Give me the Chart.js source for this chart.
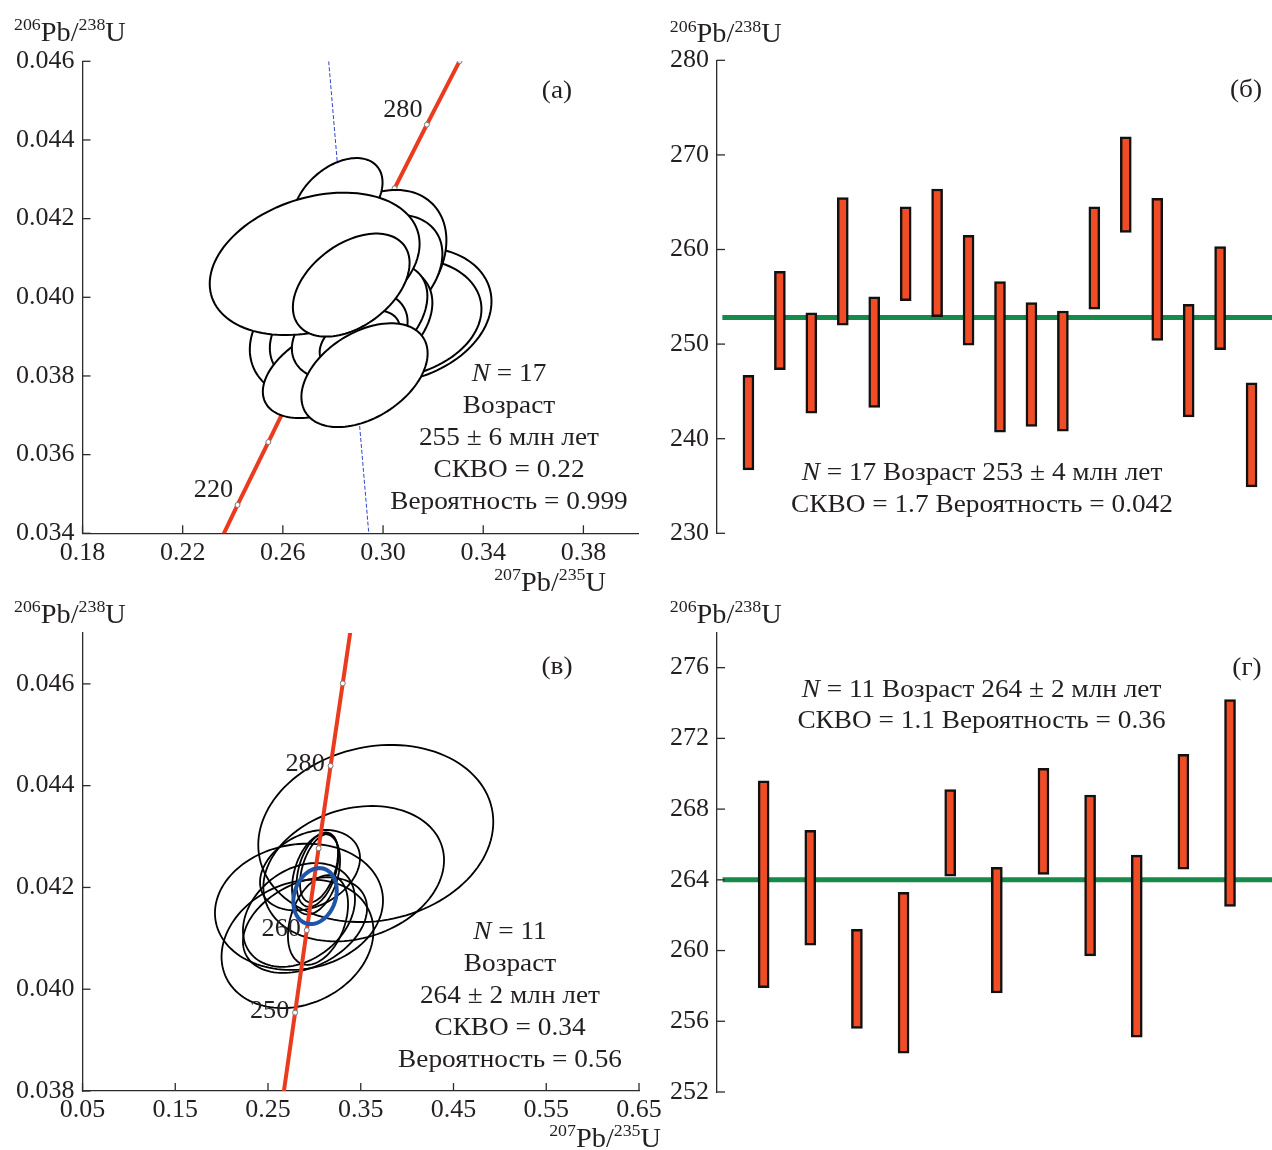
<!DOCTYPE html>
<html>
<head>
<meta charset="utf-8">
<script src="https://cdn.jsdelivr.net/npm/chart.js@4.4.1/dist/chart.umd.min.js"></script>
<style>
  body { margin: 0; background: #fff; }
  #wrap { position: relative; width: 1272px; height: 1150px; }
  canvas { position: absolute; }
</style>
</head>
<body>
<div id="wrap">
  <canvas id="cA" width="672" height="600" style="left:0;top:0"></canvas>
  <canvas id="cB" width="612" height="600" style="left:660px;top:0"></canvas>
  <canvas id="cV" width="672" height="552" style="left:0;top:598px"></canvas>
  <canvas id="cG" width="612" height="552" style="left:660px;top:598px"></canvas>
</div>
<script>
// --- concordia (age, Ma -> 207Pb/235U, 206Pb/238U) ---
const concAge = [200, 210, 220, 230, 240, 250, 260, 270, 280, 290, 300];
const conc207 = [0.2177, 0.2298, 0.2419, 0.2542, 0.2666, 0.2792, 0.2918, 0.3046, 0.3175, 0.3306, 0.3437];
const conc206 = [0.03151, 0.03311, 0.03472, 0.03632, 0.03793, 0.03954, 0.04116, 0.04277, 0.04439, 0.04601, 0.04764];
const labelAgesA = [220, 280];
const labelAgesV = [250, 260, 280];

// --- (а) 17 ellipses, in drawing order ---
const ellA_x   = [0.3066, 0.3046, 0.2966, 0.2966, 0.2954, 0.2938, 0.2767, 0.2807, 0.2787, 0.2867, 0.2819, 0.2727, 0.2847, 0.2887, 0.2907, 0.2873, 0.2926];
const ellA_sx  = [0.0367, 0.0347, 0.0287, 0.0271, 0.0243, 0.0239, 0.0299, 0.0259, 0.0267, 0.0231, 0.0179, 0.0419, 0.0160, 0.0140, 0.0160, 0.0233, 0.0252];
const ellA_y   = [0.03955, 0.03947, 0.04090, 0.04057, 0.03937, 0.03947, 0.03899, 0.03904, 0.03815, 0.03904, 0.04247, 0.04085, 0.04019, 0.03993, 0.03891, 0.04031, 0.03802];
const ellA_sy  = [0.00173, 0.00153, 0.00183, 0.00153, 0.00140, 0.00140, 0.00158, 0.00132, 0.00122, 0.00114, 0.00107, 0.00181, 0.00089, 0.00076, 0.00076, 0.00131, 0.00132];
const ellA_rho = [0.20, 0.15, 0.30, 0.35, 0.35, 0.40, 0.20, 0.25, 0.45, 0.30, 0.42, 0.28, 0.40, 0.30, 0.40, 0.43, 0.42];
const lineA_x = [0.2783, 0.2943];
const lineA_y = [0.046, 0.034];

// --- (в) 11 ellipses + weighted mean ---
const ellV_x   = [0.3662, 0.3424, 0.2834, 0.2818, 0.2834, 0.2899, 0.2953, 0.3034, 0.3050, 0.3018, 0.3039];
const ellV_sx  = [0.1267, 0.0974, 0.0906, 0.0819, 0.0604, 0.0669, 0.0539, 0.0226, 0.0205, 0.0259, 0.0324];
const ellV_y   = [0.04306, 0.04227, 0.04162, 0.04089, 0.04146, 0.04126, 0.04234, 0.04235, 0.04238, 0.04226, 0.04136];
const ellV_sy  = [0.00174, 0.00133, 0.00124, 0.00126, 0.00102, 0.00094, 0.00079, 0.00073, 0.00067, 0.00079, 0.00088];
const ellV_rho = [0.13, 0.20, 0.10, 0.20, 0.30, 0.35, 0.30, 0.40, 0.45, 0.35, 0.35];
const meanV = { x: [0.3007], sx: [0.0234], y: [0.04183], sy: [0.00055], rho: [0.20] };

// --- (б) 206Pb/238U ages, Ma ---
const lowB  = [236.7, 247.3, 242.7, 252.0, 243.3, 254.6, 252.9, 249.9, 240.7, 241.3, 240.8, 253.7, 261.8, 250.4, 242.3, 249.4, 234.9];
const highB = [246.7, 257.7, 253.3, 265.5, 255.0, 264.5, 266.4, 261.5, 256.6, 254.4, 253.5, 264.5, 271.9, 265.4, 254.2, 260.3, 245.9];
const meanB = 252.8;

// --- (г) ---
const lowG  = [257.9, 260.3, 255.6, 254.2, 264.2, 257.6, 264.3, 259.7, 255.1, 264.6, 262.5];
const highG = [269.6, 266.8, 261.2, 263.3, 269.1, 264.7, 270.3, 268.8, 265.4, 271.1, 274.2];
const meanG = 264.0;

// tick labels
const ticksAx = [0.18, 0.22, 0.26, 0.30, 0.34, 0.38];
const ticksAy = [0.034, 0.036, 0.038, 0.040, 0.042, 0.044, 0.046];
const ticksVx = [0.05, 0.15, 0.25, 0.35, 0.45, 0.55, 0.65];
const ticksVy = [0.038, 0.040, 0.042, 0.044, 0.046];
const ticksB  = [230, 240, 250, 260, 270, 280];
const ticksG  = [252, 256, 260, 264, 268, 272, 276];

const AXIS = '#2b2b2b';
const INK = '#231f20';
const RED = '#ea3b1f';
const SERIF = '"Liberation Serif", "DejaVu Serif", serif';
const TICK_FONT = { family: SERIF, size: 26 };
const YTITLE = [['206', 's'], ['Pb/', ''], ['238', 's'], ['U', '']];
const XTITLE = [['207', 's'], ['Pb/', ''], ['235', 's'], ['U', '']];

// text with superscripts / italics, slightly widened like the print
function runs(ctx, parts, x, y, align, size) {
  const SX = 1.05;
  const font = k => (k === 'i' ? 'italic ' : '') + (k === 's' ? Math.round(size * 0.62) : size) + 'px ' + SERIF;
  let w = 0;
  parts.forEach(([t, k]) => { ctx.font = font(k); w += ctx.measureText(t).width; });
  const x0 = align === 'center' ? x - w * SX / 2 : align === 'right' ? x - w * SX : x;
  ctx.save();
  ctx.translate(x0, y);
  ctx.scale(SX, 1);
  ctx.fillStyle = INK;
  ctx.textAlign = 'left';
  ctx.textBaseline = 'alphabetic';
  let cx = 0;
  parts.forEach(([t, k]) => {
    ctx.font = font(k);
    ctx.fillText(t, cx, k === 's' ? -size * 0.40 : 0);
    cx += ctx.measureText(t).width;
  });
  ctx.restore();
}

// ticks drawn on the inner side of the axes
const inTicks = {
  id: 'inTicks',
  afterDraw(chart) {
    const ctx = chart.ctx, a = chart.chartArea;
    ctx.save();
    ctx.strokeStyle = AXIS;
    ctx.lineWidth = 1.3;
    ['x', 'y'].forEach(id => {
      const s = chart.scales[id];
      if (!s.options.display) return;
      s.ticks.forEach(t => {
        const p = s.getPixelForValue(t.value);
        ctx.beginPath();
        if (id === 'x') { ctx.moveTo(p, a.bottom); ctx.lineTo(p, a.bottom - 8); }
        else { ctx.moveTo(a.left, p); ctx.lineTo(a.left + 8, p); }
        ctx.stroke();
      });
    });
    ctx.restore();
  }
};

function ellipses(id, hook, xs, sxs, ys, sys, rhos, style) {
  return {
    id,
    [hook](chart) {
      const ctx = chart.ctx, a = chart.chartArea;
      const sx = chart.scales.x, sy = chart.scales.y;
      ctx.save();
      ctx.beginPath();
      ctx.rect(a.left, a.top, a.right - a.left, a.bottom - a.top);
      ctx.clip();
      xs.forEach((cx, i) => {
        const k = Math.sqrt(1 - rhos[i] * rhos[i]);
        ctx.beginPath();
        for (let j = 0; j <= 120; j++) {
          const t = j / 120 * 2 * Math.PI;
          const px = sx.getPixelForValue(cx + sxs[i] * Math.cos(t));
          const py = sy.getPixelForValue(ys[i] + sys[i] * (rhos[i] * Math.cos(t) + k * Math.sin(t)));
          j ? ctx.lineTo(px, py) : ctx.moveTo(px, py);
        }
        ctx.closePath();
        if (style.fill) { ctx.fillStyle = style.fill; ctx.fill(); }
        ctx.lineWidth = style.width;
        ctx.strokeStyle = style.color;
        ctx.stroke();
      });
      ctx.restore();
    }
  };
}

function ageLabels(id, ages, dx, dy) {
  return {
    id,
    afterDraw(chart) {
      const sx = chart.scales.x, sy = chart.scales.y;
      ages.forEach(age => {
        const i = concAge.indexOf(age);
        runs(chart.ctx, [[String(age), '']],
          sx.getPixelForValue(conc207[i]) + dx, sy.getPixelForValue(conc206[i]) + dy, 'center', 25);
      });
    }
  };
}

function texts(id, items) {
  return {
    id,
    afterDraw(chart) {
      items.forEach(it => runs(chart.ctx, it[0], it[1], it[2], it[3], it[4]));
    }
  };
}

function axis(min, max, ticks, digits, size, pad) {
  return {
    type: 'linear', min, max, offset: false,
    afterBuildTicks: s => { s.ticks = ticks.map(v => ({ value: v })); },
    afterFit: s => { if (s.isHorizontal()) s.height = size; else s.width = size; },
    grid: { drawOnChartArea: false, drawTicks: false },
    border: { color: AXIS, width: 1.3 },
    ticks: { font: TICK_FONT, color: INK, padding: pad, autoSkip: false, maxRotation: 0,
      callback: v => v.toFixed(digits) }
  };
}

const base = {
  responsive: false,
  animation: false,
  devicePixelRatio: 1,
  plugins: { legend: { display: false }, tooltip: { enabled: false } }
};

function concordiaSet() {
  return {
    data: concAge.map((t, i) => ({ x: conc207[i], y: conc206[i] })),
    showLine: true, borderColor: RED, borderWidth: 4,
    pointRadius: 2.5, pointBackgroundColor: '#fff', pointBorderColor: '#777', pointBorderWidth: 1
  };
}

// (а)
new Chart(document.getElementById('cA'), {
  type: 'scatter',
  data: {
    datasets: [
      concordiaSet(),
      { data: lineA_x.map((x, i) => ({ x, y: lineA_y[i] })), showLine: true,
        borderColor: '#3048c8', borderWidth: 1, borderDash: [4, 2], pointRadius: 0 }
    ]
  },
  options: Object.assign({}, base, {
    layout: { padding: { top: 61.3, right: 33.5, bottom: 0, left: 0 } },
    scales: {
      x: axis(0.18, 0.402, ticksAx, 2, 66.7, 4),
      y: axis(0.034, 0.046, ticksAy, 3, 82.5, 8)
    }
  }),
  plugins: [
    ellipses('ellA', 'afterDatasetsDraw', ellA_x, ellA_sx, ellA_y, ellA_sy, ellA_rho,
      { fill: '#fff', color: '#000', width: 2 }),
    inTicks,
    ageLabels('ageA', labelAgesA, -24, -8),
    texts('txtA', [
      [YTITLE, 14, 40.7, 'left', 27],
      [XTITLE, 606, 591, 'right', 27],
      [[['(а)', '']], 557, 98, 'center', 26],
      [[['N', 'i'], [' = 17', '']], 509, 381, 'center', 26],
      [[['Возраст', '']], 509, 413, 'center', 26],
      [[['255 ± 6 млн лет', '']], 509, 445, 'center', 26],
      [[['СКВО = 0.22', '']], 509, 477, 'center', 26],
      [[['Вероятность = 0.999', '']], 509, 509, 'center', 26]
    ])
  ]
});

// (в)
new Chart(document.getElementById('cV'), {
  type: 'scatter',
  data: { datasets: [concordiaSet()] },
  options: Object.assign({}, base, {
    layout: { padding: { top: 35, right: 33, bottom: 0, left: 0 } },
    scales: {
      x: axis(0.05, 0.65, ticksVx, 2, 59, 4),
      y: axis(0.038, 0.047, ticksVy, 3, 82.5, 8)
    }
  }),
  plugins: [
    ellipses('ellV', 'beforeDatasetsDraw', ellV_x, ellV_sx, ellV_y, ellV_sy, ellV_rho,
      { color: '#000', width: 1.8 }),
    ellipses('meanV', 'afterDatasetsDraw', meanV.x, meanV.sx, meanV.y, meanV.sy, meanV.rho,
      { color: '#1f55a8', width: 4 }),
    inTicks,
    ageLabels('ageV', labelAgesV, -25.5, 5.5),
    texts('txtV', [
      [YTITLE, 14, 25, 'left', 27],
      [XTITLE, 661, 549, 'right', 27],
      [[['(в)', '']], 557, 76, 'center', 26],
      [[['N', 'i'], [' = 11', '']], 510, 340.7, 'center', 26],
      [[['Возраст', '']], 510, 372.7, 'center', 26],
      [[['264 ± 2 млн лет', '']], 510, 404.7, 'center', 26],
      [[['СКВО = 0.34', '']], 510, 436.7, 'center', 26],
      [[['Вероятность = 0.56', '']], 510, 468.7, 'center', 26]
    ])
  ]
});

function barChart(id, low, high, mean, yMin, yMax, yTicks, xMax, lineStart, top, bottom, txt) {
  new Chart(document.getElementById(id), {
    type: 'bar',
    data: {
      datasets: [
        { type: 'bar', data: low.map((v, i) => ({ x: i + 1, y: [v, high[i]] })),
          backgroundColor: '#f04d26', borderColor: '#111', borderWidth: 2.5,
          borderSkipped: false, barThickness: 11, order: 1 },
        { type: 'line', data: [{ x: lineStart, y: mean }, { x: xMax, y: mean }],
          borderColor: '#17894a', borderWidth: 5, pointRadius: 0, order: 2 }
      ]
    },
    options: Object.assign({}, base, {
      layout: { padding: { top, right: 0, bottom, left: 0 } },
      scales: {
        x: { type: 'linear', min: 0, max: xMax, offset: false, display: false },
        y: axis(yMin, yMax, yTicks, 0, 57, 8)
      }
    }),
    plugins: [inTicks, texts(id + 'txt', txt)]
  });
}

// (б)
barChart('cB', lowB, highB, meanB, 230, 280, ticksB, 17.65, 0.17, 60.3, 66.7, [
  [YTITLE, 9.8, 42.3, 'left', 27],
  [[['(б)', '']], 586, 97, 'center', 26],
  [[['N', 'i'], [' = 17 Возраст 253 ± 4 млн лет', '']], 322, 480, 'center', 26],
  [[['СКВО = 1.7 Вероятность = 0.042', '']], 322, 512.3, 'center', 26]
]);

// (г)
barChart('cG', lowG, highG, meanG, 252, 278, ticksG, 11.9, 0.12, 34.3, 58, [
  [YTITLE, 9.8, 25.3, 'left', 27],
  [[['(г)', '']], 587, 77, 'center', 26],
  [[['N', 'i'], [' = 11 Возраст 264 ± 2 млн лет', '']], 321.5, 98.7, 'center', 26],
  [[['СКВО = 1.1 Вероятность = 0.36', '']], 321.5, 130.3, 'center', 26]
]);
</script>
</body>
</html>
